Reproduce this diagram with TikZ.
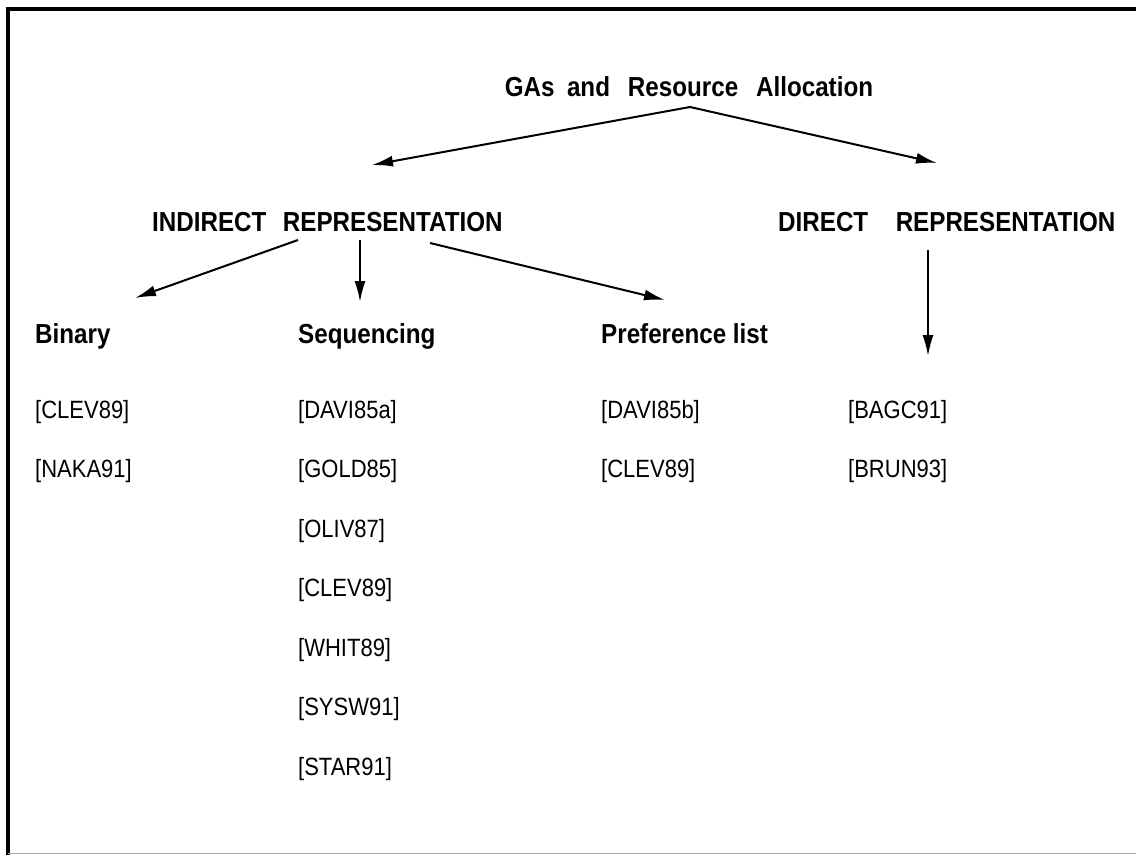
\documentclass[tikz,border=0pt]{standalone}
\usepackage{fontspec}
\setmainfont{Liberation Sans}[FakeStretch=0.88]
\usetikzlibrary{arrows.meta}
\begin{document}
\begin{tikzpicture}[x=1pt,y=-1pt,
  head/.style={font=\fontsize{27.5}{30}\selectfont\bfseries, inner sep=0pt, anchor=base west},
  ref/.style={font=\fontsize{25}{28}\selectfont, inner sep=0pt, anchor=base west},
  conn/.style={line width=2pt, -{Latex[length=21pt,width=11pt]}}]
\useasboundingbox (0,0) rectangle (1136,855);
% frame
\draw[line width=4pt] (7.5,855) -- (7.5,9) -- (1136,9);
\draw[gray!70, line width=1.5pt] (7.5,853.5) -- (1136,853.5);

% headings
\node[head, anchor=base] (root) at (689,96) {GAs\hspace{0.45em}and\hspace{0.65em}Resource\hspace{0.65em}Allocation};
\node[head] (ind) at (152,231) {INDIRECT\hspace{0.6em}REPRESENTATION};
\node[head] (dir) at (778,231) {DIRECT\hspace{1em}REPRESENTATION};
\node[head] (bin) at (35,343) {Binary};
\node[head] (seq) at (298,343) {Sequencing};
\node[head] (pref) at (601,343) {Preference list};

% references
\node[ref] (b1) at (35,418) {[CLEV89]};
\node[ref] (b2) at (35,477.5) {[NAKA91]};
\node[ref] (s1) at (298,418) {[DAVI85a]};
\node[ref] (s2) at (298,477.5) {[GOLD85]};
\node[ref] (s3) at (298,537) {[OLIV87]};
\node[ref] (s4) at (298,596.5) {[CLEV89]};
\node[ref] (s5) at (298,656) {[WHIT89]};
\node[ref] (s6) at (298,715.5) {[SYSW91]};
\node[ref] (s7) at (298,775) {[STAR91]};
\node[ref] (p1) at (601,418) {[DAVI85b]};
\node[ref] (p2) at (601,477.5) {[CLEV89]};
\node[ref] (d1) at (848,418) {[BAGC91]};
\node[ref] (d2) at (848,477.5) {[BRUN93]};

% connector end points
\coordinate (rootfoot) at (690,107);
\coordinate (indtip) at (372,165);
\coordinate (dirtip) at (937,163);
\coordinate (indL) at (298,240);
\coordinate (indM) at (360,240);
\coordinate (indR) at (430,243);
\coordinate (bintip) at (135,298);
\coordinate (seqtip) at (360,302);
\coordinate (preftip) at (665,300);
\coordinate (dirfoot) at (928,250);
\coordinate (dirlist) at (928,356);

% connectors
\draw[conn] (rootfoot) -- (indtip);
\draw[conn] (rootfoot) -- (dirtip);
\draw[conn] (indL) -- (bintip);
\draw[conn] (indM) -- (seqtip);
\draw[conn] (indR) -- (preftip);
\draw[conn] (dirfoot) -- (dirlist);
\end{tikzpicture}
\end{document}
